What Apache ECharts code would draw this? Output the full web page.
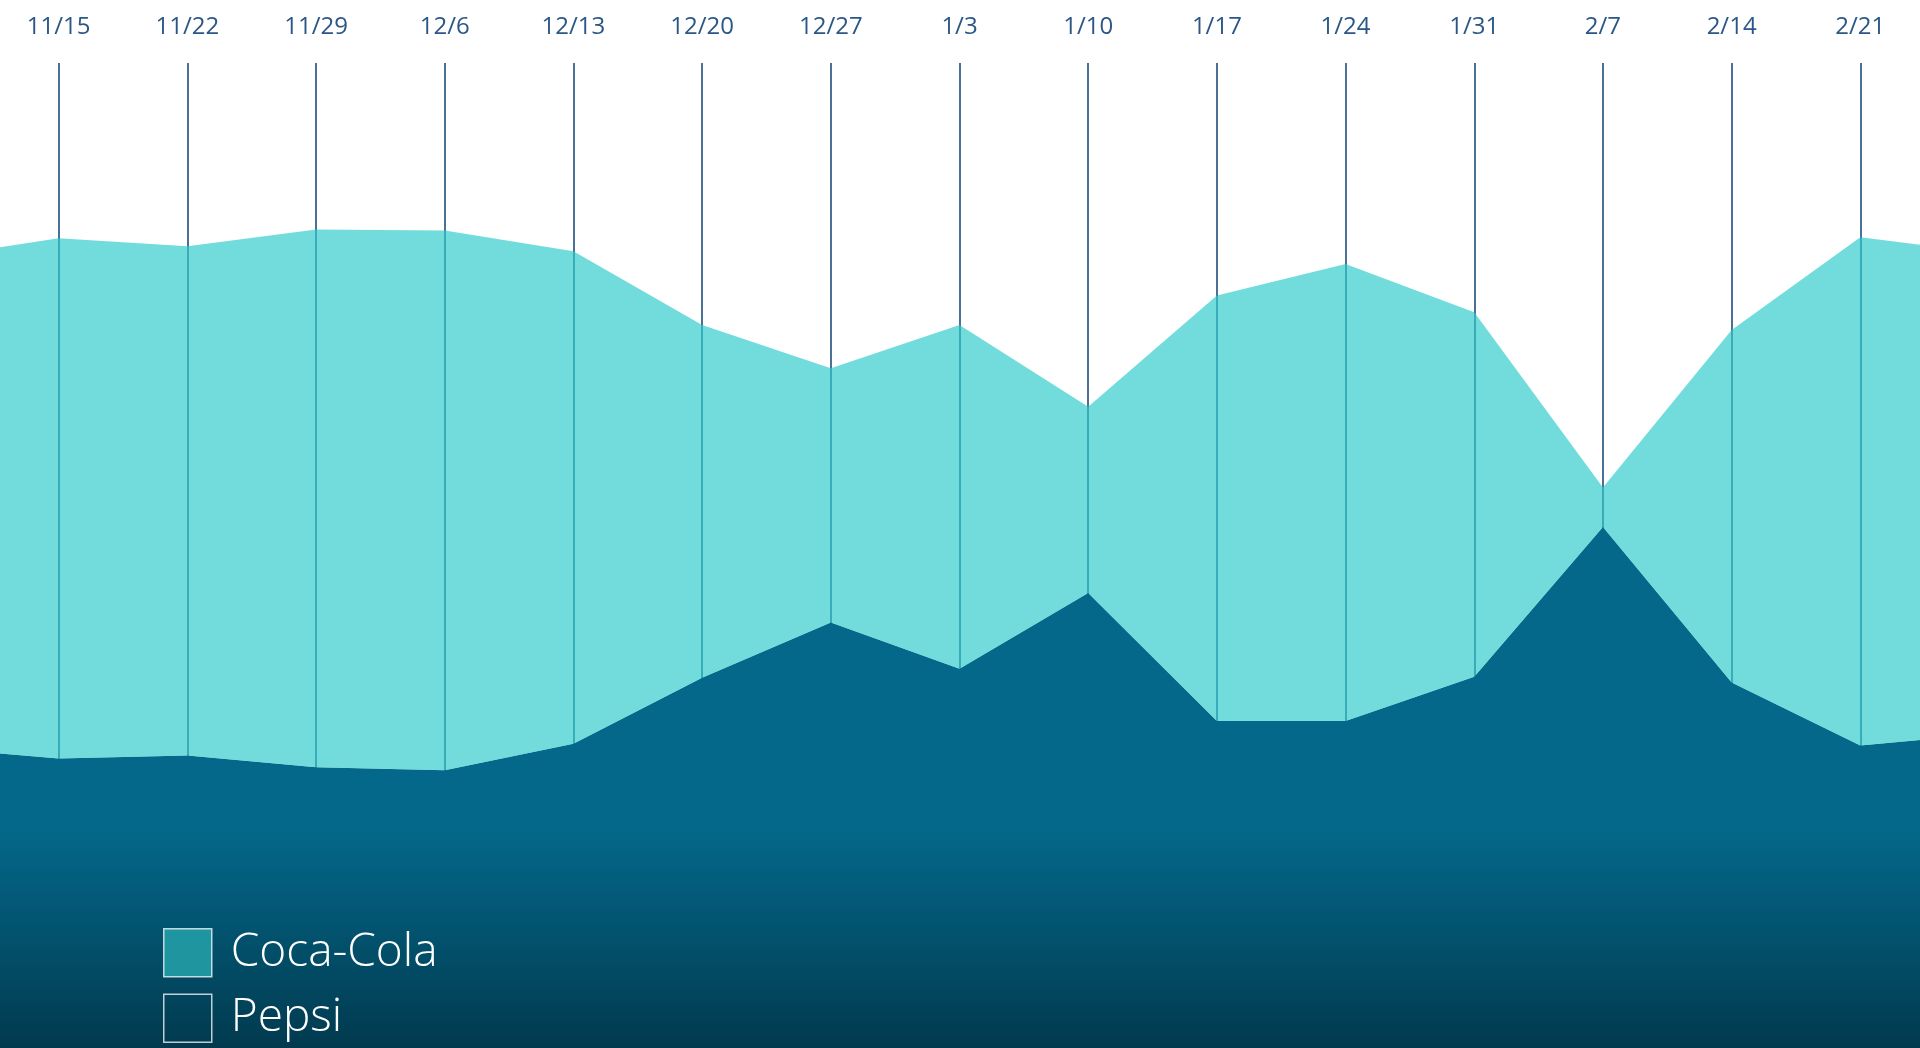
<!DOCTYPE html>
<html>
<head>
<meta charset="utf-8">
<script src="https://cdn.jsdelivr.net/npm/echarts@6/dist/echarts.min.js"></script>
<style>
  html, body { margin: 0; padding: 0; background: #fff; }
  #myChart { width: 1920px; height: 1048px; }
</style>
</head>
<body>
<div id="myChart"></div>
<script>
// weeks (first and last sit just outside the visible page edges)
const weeks = ["11/8", "11/15", "11/22", "11/29", "12/6", "12/13", "12/20", "12/27",
  "1/3", "1/10", "1/17", "1/24", "1/31", "2/7", "2/14", "2/21", "2/28"];
const pepsi = [30.5, 29.4, 29.7, 28.5, 28.2, 30.9, 37.6, 43.2, 38.5, 46.2, 33.2, 33.2, 37.7, 52.9, 37.1, 30.7, 31.9];
const cocaCola = [49.7, 52.8, 51.7, 54.6, 54.8, 50.0, 35.8, 25.8, 34.9, 18.9, 43.2, 46.4, 37.0, 4.0, 35.8, 51.6, 48.8];

let myChart = echarts.init(document.getElementById("myChart"));
myChart.setOption({
  animation: false,
  // grid is a bit wider than the page so the end weeks fall off-screen
  grid: {
    left: -70,
    right: -69,
    top: 63,
    bottom: 0,
    containLabel: false,
    outerBoundsMode: "none",
  },
  legend: {
    orient: "vertical",
    left: 163,
    top: 928,
    padding: 0,
    itemWidth: 48,
    itemHeight: 48,
    itemGap: 16,
    icon: "rect",
    textStyle: {
      color: "#fff",
      fontSize: 46,
      fontWeight: 300,
      fontFamily: "Open Sans",
      padding: [4, 0, 0, 14],
    },
    data: [
      {
        name: "Coca-Cola",
        itemStyle: { color: "#1e959f", borderColor: "rgba(255,255,255,0.75)", borderWidth: 1.5 },
      },
      {
        name: "Pepsi",
        itemStyle: { color: "rgba(0,0,0,0)", borderColor: "rgba(255,255,255,0.75)", borderWidth: 1.5 },
      },
    ],
  },
  xAxis: {
    type: "category",
    position: "top",
    boundaryGap: false,
    data: weeks,
    axisLine: { show: false },
    axisTick: { show: false },
    splitLine: {
      show: true,
      interval: 0,
      lineStyle: { color: "#1f4d7c", width: 1.6 },
    },
    axisLabel: {
      interval: 0,
      margin: 24,
      fontSize: 24,
      color: "#2b5787",
      fontFamily: "Open Sans",
    },
  },
  yAxis: {
    type: "value",
    min: 0,
    max: 100,
    show: false,
  },
  series: [
    {
      name: "Pepsi",
      type: "line",
      stack: "total",
      symbol: "none",
      lineStyle: { width: 0 },
      itemStyle: { color: "#04688a" },
      areaStyle: {
        opacity: 1,
        color: {
          type: "linear",
          x: 0, y: 830, x2: 0, y2: 1048,
          global: true,
          colorStops: [
            { offset: 0, color: "#04688a" },
            { offset: 1, color: "#013a4f" },
          ],
        },
      },
      data: pepsi,
    },
    {
      name: "Coca-Cola",
      type: "line",
      stack: "total",
      symbol: "none",
      lineStyle: { width: 0 },
      itemStyle: { color: "#1e959f" },
      areaStyle: { color: "rgb(45,203,203)", opacity: 0.67 },
      data: cocaCola,
    },
  ],
});
</script>
</body>
</html>
